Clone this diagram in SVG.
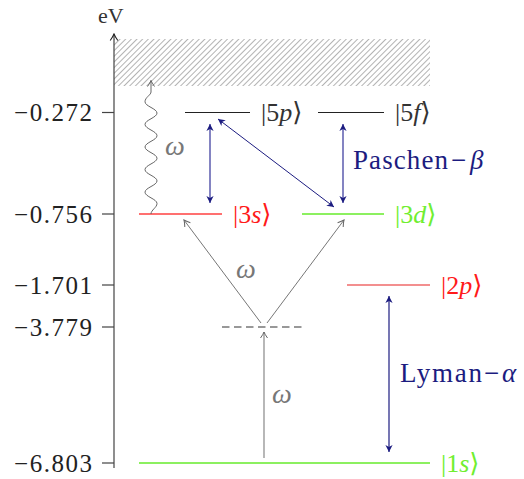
<svg xmlns="http://www.w3.org/2000/svg" width="524" height="479" viewBox="0 0 524 479" font-family="'Liberation Serif', 'DejaVu Serif', serif">
<style>
text, tspan{font-family:"Liberation Serif","DejaVu Serif",serif;}
.tick{font-size:25px;fill:#222;text-anchor:end;}
.lbl{font-size:26px;}
.it{font-style:italic;}
.om{font-size:28px;font-style:italic;fill:#777;}
.blue{fill:#1c1c80;font-size:27px;}
.ax{stroke:#444;stroke-width:1.2;fill:none;}
</style>
<defs>
<pattern id="hatch" width="4" height="10" patternUnits="userSpaceOnUse" patternTransform="rotate(45)">
<line x1="0.5" y1="0" x2="0.5" y2="10" stroke="#aaa" stroke-width="0.9"/>
</pattern>
<marker id="axh" viewBox="-8 -5 9 10" refX="0" refY="0" markerWidth="9" markerHeight="10" orient="auto" markerUnits="userSpaceOnUse">
<path d="M-6.5,-3.8 Q-2.5,-1 0,0 Q-2.5,1 -6.5,3.8" fill="none" stroke="#222" stroke-width="1.1"/>
</marker>
<marker id="gh" viewBox="-8 -5 9 10" refX="0" refY="0" markerWidth="9" markerHeight="10" orient="auto" markerUnits="userSpaceOnUse">
<path d="M-6,-3.5 Q-2.3,-0.9 0,0 Q-2.3,0.9 -6,3.5" fill="none" stroke="#666" stroke-width="1"/>
</marker>
<marker id="bh" viewBox="-8 -5 9 10" refX="0" refY="0" markerWidth="9" markerHeight="10" orient="auto-start-reverse" markerUnits="userSpaceOnUse">
<path d="M-7,-3.6 L0,0 L-7,3.6 L-5,0 Z" fill="#1c1c80"/>
</marker>
</defs>

<rect id="continuum" x="114" y="39" width="316" height="47" fill="url(#hatch)"/>

<g id="axis">
<line class="ax" x1="114" y1="468" x2="114" y2="34" marker-end="url(#axh)"/>
<line class="ax" x1="102" y1="112.5" x2="114" y2="112.5"/>
<line class="ax" x1="102" y1="214" x2="114" y2="214"/>
<line class="ax" x1="102" y1="285" x2="114" y2="285"/>
<line class="ax" x1="102" y1="327" x2="114" y2="327"/>
<line class="ax" x1="102" y1="463" x2="114" y2="463"/>
<text x="98" y="23" font-size="22" fill="#333">eV</text>
<text class="tick" x="92" y="121" textLength="78" lengthAdjust="spacing">−0.272</text>
<text class="tick" x="92" y="222.5" textLength="78" lengthAdjust="spacing">−0.756</text>
<text class="tick" x="92" y="293.5" textLength="78" lengthAdjust="spacing">−1.701</text>
<text class="tick" x="92" y="335.5" textLength="78" lengthAdjust="spacing">−3.779</text>
<text class="tick" x="92" y="471.5" textLength="78" lengthAdjust="spacing">−6.803</text>
</g>

<g id="level-5p">
<line x1="185" y1="112.5" x2="250" y2="112.5" stroke="#222" stroke-width="1.2"/>
<text class="lbl" x="261" y="121" fill="#333">|5<tspan class="it">p</tspan>⟩</text>
</g>
<g id="level-5f">
<line x1="318" y1="112.5" x2="384" y2="112.5" stroke="#222" stroke-width="1.2"/>
<text class="lbl" x="395" y="121" fill="#333">|5<tspan class="it">f</tspan>⟩</text>
</g>
<g id="level-3s">
<line x1="139" y1="214" x2="222" y2="214" stroke="#ff7070" stroke-width="2"/>
<text class="lbl" x="233" y="222.5" fill="#ff1a1a">|3<tspan class="it">s</tspan>⟩</text>
</g>
<g id="level-3d">
<line x1="302" y1="214" x2="384" y2="214" stroke="#8cf060" stroke-width="2"/>
<text class="lbl" x="395" y="222.5" fill="#70ee30">|3<tspan class="it">d</tspan>⟩</text>
</g>
<g id="level-2p">
<line x1="347" y1="285" x2="430" y2="285" stroke="#e82020" stroke-width="1.2"/>
<text class="lbl" x="441" y="293.5" fill="#ff1a1a">|2<tspan class="it">p</tspan>⟩</text>
</g>
<g id="level-virtual">
<line x1="222" y1="327" x2="306" y2="327" stroke="#777" stroke-width="1.6" stroke-dasharray="7.5 4.5"/>
</g>
<g id="level-1s">
<line x1="139" y1="463" x2="430" y2="463" stroke="#8cf060" stroke-width="2"/>
<text class="lbl" x="441" y="471.5" fill="#70ee30">|1<tspan class="it">s</tspan>⟩</text>
</g>

<g id="connectors">
<path d="M151,214 C151,210 157,207.5 157,203.5 C157,199 145,196.7 145,192.2 S157,185.4 157,180.9 S145,174.1 145,169.6 S157,162.8 157,158.3 S145,151.5 145,147 S157,140.2 157,135.7 S145,128.9 145,124.4 S157,117.6 157,113.1 S145,106.3 145,101.8 S151,95 151,92 L151,80.5" fill="none" stroke="#666" stroke-width="1" marker-end="url(#gh)"/>
<line x1="264" y1="458" x2="264" y2="332" stroke="#888" stroke-width="1.2" marker-end="url(#gh)"/>
<line x1="261" y1="323" x2="184" y2="220" stroke="#666" stroke-width="0.9" marker-end="url(#gh)"/>
<line x1="267" y1="323" x2="344" y2="220" stroke="#666" stroke-width="0.9" marker-end="url(#gh)"/>
<line x1="210" y1="124" x2="210" y2="203" stroke="#5050a8" stroke-width="1.4" marker-start="url(#bh)" marker-end="url(#bh)"/>
<line x1="218" y1="119" x2="334" y2="207" stroke="#1c1c80" stroke-width="1" marker-start="url(#bh)" marker-end="url(#bh)"/>
<line x1="343" y1="124" x2="343" y2="203" stroke="#5050a8" stroke-width="1.4" marker-start="url(#bh)" marker-end="url(#bh)"/>
<line x1="389" y1="296" x2="389" y2="452" stroke="#1c1c80" stroke-width="1.2" marker-start="url(#bh)" marker-end="url(#bh)"/>
<text class="om" x="165" y="155">ω</text>
<text class="om" x="236" y="278">ω</text>
<text class="om" x="272" y="403">ω</text>
<text class="blue" x="353" y="169"><tspan textLength="95" lengthAdjust="spacing">Paschen</tspan><tspan x="451">−</tspan><tspan x="470" class="it">β</tspan></text>
<text class="blue" x="400" y="382"><tspan textLength="82" lengthAdjust="spacing">Lyman</tspan><tspan x="484">−</tspan><tspan x="502" class="it">α</tspan></text>
</g>
</svg>
